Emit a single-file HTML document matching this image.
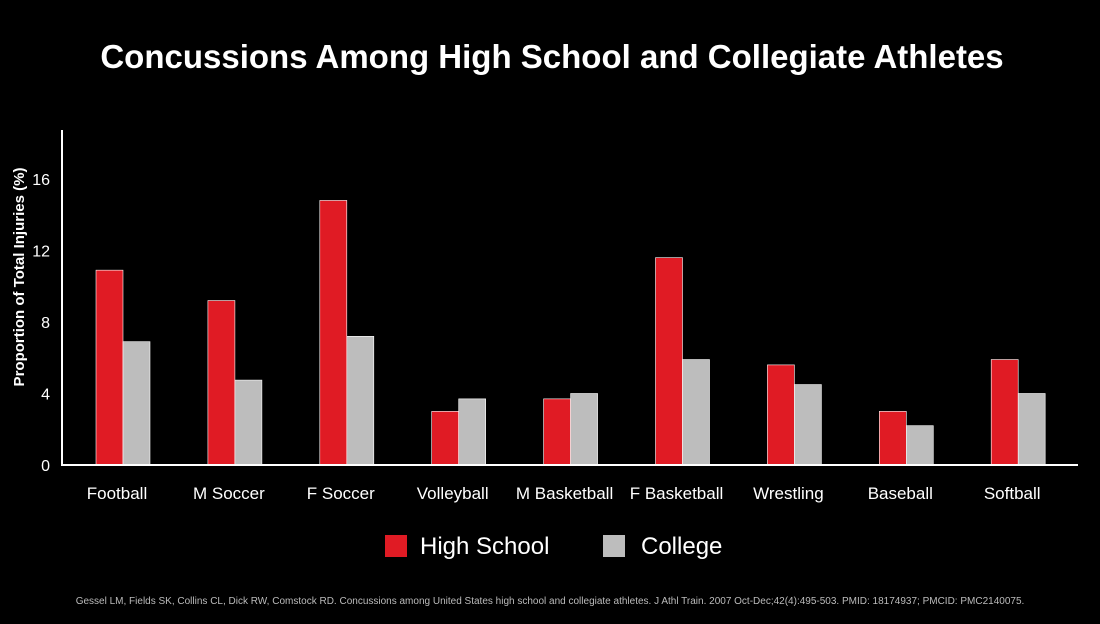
<!DOCTYPE html>
<html><head><meta charset="utf-8"><style>
html,body{margin:0;padding:0;background:#000;}
svg text{font-family:"Liberation Sans",sans-serif;}
</style></head><body>
<svg width="1100" height="619" viewBox="0 0 1100 619" xmlns="http://www.w3.org/2000/svg">
<rect width="1100" height="619" fill="#000"/>
<text x="552" y="68" text-anchor="middle" fill="#fff" font-size="33" font-weight="bold">Concussions Among High School and Collegiate Athletes</text>
<g id="plot"></g>
<line x1="62" y1="130" x2="62" y2="466" stroke="#fff" stroke-width="2"/>
<line x1="62" y1="465" x2="1078" y2="465" stroke="#fff" stroke-width="2"/>
<text transform="translate(24,277) rotate(-90)" text-anchor="middle" fill="#fff" font-size="15" font-weight="bold">Proportion of Total Injuries (%)</text>
<rect x="385" y="535" width="22" height="22" fill="#e01b24"/>
<text x="420" y="554" fill="#fff" font-size="24">High School</text>
<rect x="603" y="535" width="22" height="22" fill="#bdbdbd"/>
<text x="641" y="554" fill="#fff" font-size="24">College</text>
<text x="550" y="604" text-anchor="middle" fill="#bbb" font-size="10">Gessel LM, Fields SK, Collins CL, Dick RW, Comstock RD. Concussions among United States high school and collegiate athletes. J Athl Train. 2007 Oct-Dec;42(4):495-503. PMID: 18174937; PMCID: PMC2140075.</text>
</svg>
<script>
const categories=["Football","M Soccer","F Soccer","Volleyball","M Basketball","F Basketball","Wrestling","Baseball","Softball"];
const highSchool=[10.9,9.2,14.8,3.0,3.7,11.6,5.6,3.0,5.9];
const college=[6.9,4.75,7.2,3.7,4.0,5.9,4.5,2.2,4.0];
const yTicks=[0,4,8,12,16];
const NS="http://www.w3.org/2000/svg";
const plot=document.getElementById('plot');
const y=v=>465-v*17.875;
const xc=i=>123+i*111.9;
const bw=27;
yTicks.forEach(t=>{
  const tx=document.createElementNS(NS,'text');
  tx.setAttribute('x',50);tx.setAttribute('y',y(t)+6);
  tx.setAttribute('text-anchor','end');tx.setAttribute('fill','#fff');tx.setAttribute('font-size','16');
  tx.textContent=t;
  
  
  plot.appendChild(tx);
});
categories.forEach((c,i)=>{
  const h=document.createElementNS(NS,'rect');
  h.setAttribute('x',xc(i)-bw);h.setAttribute('y',y(highSchool[i]));
  h.setAttribute('width',bw);h.setAttribute('height',465-y(highSchool[i]));
  h.setAttribute('fill','#e01b24');h.setAttribute('stroke','#fff');h.setAttribute('stroke-width','0.6');
  
  
  plot.appendChild(h);
  const g=document.createElementNS(NS,'rect');
  g.setAttribute('x',xc(i));g.setAttribute('y',y(college[i]));
  g.setAttribute('width',bw);g.setAttribute('height',465-y(college[i]));
  g.setAttribute('fill','#bdbdbd');g.setAttribute('stroke','#fff');g.setAttribute('stroke-width','0.6');
  
  
  plot.appendChild(g);
  const t=document.createElementNS(NS,'text');
  t.setAttribute('x',xc(i)-6);t.setAttribute('y',499);
  t.setAttribute('text-anchor','middle');t.setAttribute('fill','#fff');t.setAttribute('font-size','17');
  t.textContent=c;
  
  
  plot.appendChild(t);
});
</script>
</body></html>
